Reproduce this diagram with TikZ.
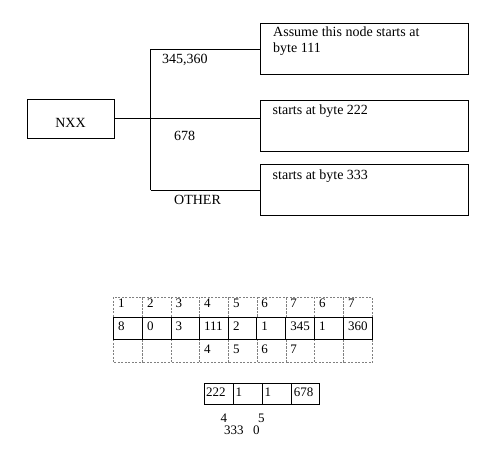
\documentclass[tikz,border=0pt]{standalone}
\usepackage{fontspec}
\setmainfont{Liberation Serif}
\begin{document}
\begin{tikzpicture}[x=1pt,y=-1pt,
  box/.style={draw,thick,inner sep=0pt},
  lbl/.style={anchor=base west,inner sep=0pt,font=\fontsize{14}{16}\selectfont},
  cell/.style={anchor=base west,inner sep=0pt,font=\fontsize{13}{15}\selectfont},
  dashcell/.style={draw=gray,dashed,dash pattern=on 2pt off 1.5pt},
  solidline/.style={draw,thick}]
\useasboundingbox (0,0) rectangle (490,474);
% top tree
\node[box,minimum width=87pt,minimum height=39pt] (nxx) at (70.5,118.8) {};
\node[lbl,anchor=base] (nxxt) at (70.5,127.7) {NXX};
\node[box,minimum width=208pt,minimum height=51pt] (b1) at (364.2,48.8) {};
\node[box,minimum width=208pt,minimum height=51pt] (b2) at (364.2,126.3) {};
\node[box,minimum width=208pt,minimum height=51pt] (b3) at (364.2,190.2) {};
\coordinate (j1) at (150.7,49.3);
\coordinate (j3) at (150.7,190.3);
\draw[thick] (nxx.east) -- (nxx.east -| b2.west);
\draw[thick] (j1) -- (j3);
\draw[thick] (j1) -- (j1 -| b1.west);
\draw[thick] (j3) -- (j3 -| b3.west);
\node[lbl] (t1a) at (273,36.7) {Assume this node starts at};
\node[lbl] (t1b) at (273,52.7) {byte 111};
\node[lbl] (t2) at (272.5,114) {starts at byte 222};
\node[lbl] (t3) at (272.5,179) {starts at byte 333};
\node[lbl] (l1) at (162,63.3) {345,360};
\node[lbl] (l2) at (174,140) {678};
\node[lbl] (l3) at (174,204.7) {OTHER};
% big table
\foreach \xa/\xb in {113.3/142.3,142.3/171,171/199.3,199.3/228.3,228.3/256.7,256.7/285.7,285.7/314.3,314.3/343.3,343.3/372.3}{
  \draw[dashcell] (\xa,297) rectangle (\xb,317);
  \draw[dashcell] (\xa,339) rectangle (\xb,362.5);
}
\foreach \xa/\xb in {113.3/142.3,142.3/171,171/199.3,199.3/228.3,228.3/256.7,256.7/285.7,285.7/314.3,314.3/343.3,343.3/372.3}{
  \draw[solidline] (\xa,317) rectangle (\xb,339);
}
\foreach \x/\t [count=\k] in {113.3/1,142.3/2,171/3,199.3/4,228.3/5,256.7/6,285.7/7,314.3/6,343.3/7}
  \node[cell] (a\k) at (\x+4.5,307.3) {\t};
\foreach \x/\t [count=\k] in {113.3/8,142.3/0,171/3,199.3/111,228.3/2,256.7/1,285.7/345,314.3/1,343.3/360}
  \node[cell] (m\k) at (\x+4.5,330.7) {\t};
\foreach \x/\t [count=\k] in {199.3/4,228.3/5,256.7/6,285.7/7}
  \node[cell] (c\k) at (\x+4.5,353.3) {\t};
% small table
\foreach \xa/\xb in {204/233.3,233.3/262.3,262.3/291.7,291.7/319.3}
  \draw[solidline] (\xa,383.3) rectangle (\xb,404);
\foreach \x/\t [count=\k] in {204/222,233.3/1,262.3/1,291.7/678}
  \node[cell] (s\k) at (\x+2,396.7) {\t};
\node[cell] (n4) at (220.5,422.3) {4};
\node[cell] (n5) at (258,422.3) {5};
\node[cell] (n333) at (224,434.3) {333};
\node[cell] (n0) at (253,434.3) {0};
\end{tikzpicture}
\end{document}
